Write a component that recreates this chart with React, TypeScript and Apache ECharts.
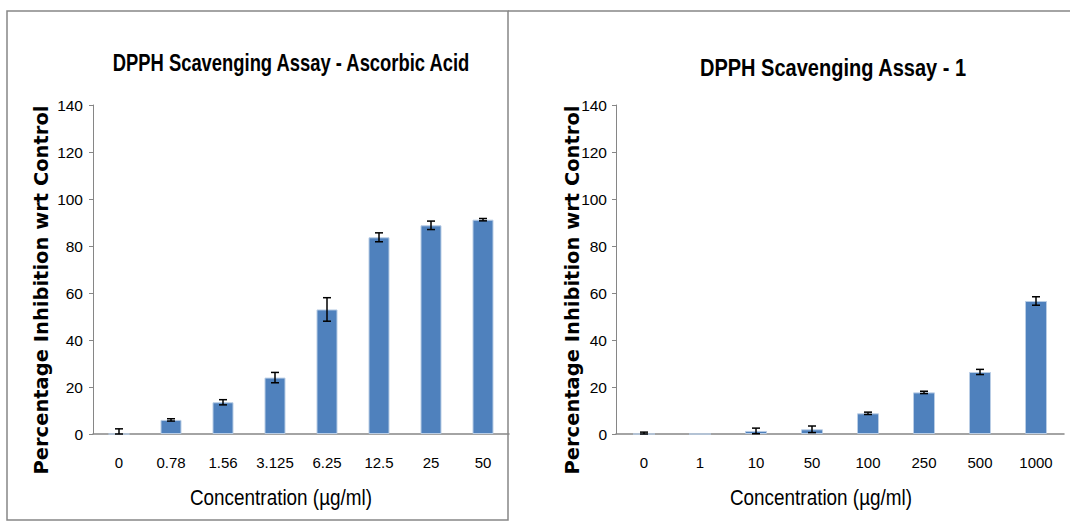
import React, { useEffect, useRef } from "react";
import * as echarts from "echarts";

const titleA = "DPPH Scavenging Assay - Ascorbic Acid";
const titleB = "DPPH Scavenging Assay - 1";
const xTitle = "Concentration (µg/ml)";
const yTitle = "Percentage Inhibition wrt Control";

const catsA = ["0", "0.78", "1.56", "3.125", "6.25", "12.5", "25", "50"];
const valsA = [0, 6.0, 13.5, 24.0, 53.0, 83.7, 88.8, 91.2];
const errA = [2.2, 0.5, 1.1, 2.2, 5.0, 1.9, 1.8, 0.5];

const catsB = ["0", "1", "10", "50", "100", "250", "500", "1000"];
const valsB = [0, 0, 1.3, 2.0, 8.8, 17.7, 26.4, 56.6];
const errB = [0.8, 0, 1.2, 1.4, 0.5, 0.5, 1.1, 1.8];

const yMax = 140;
const yStep = 20;

const NARROW = "'Liberation Sans', Arial, sans-serif";
const WIDE = "'DejaVu Sans', Verdana, sans-serif";

function errSeries(vals: number[], errs: number[], idx: number) {
  return {
    type: "custom",
    xAxisIndex: idx,
    yAxisIndex: idx,
    z: 10,
    data: vals.map((v, i) => [i, v, errs[i]]),
    renderItem: (params: any, api: any) => {
      const i = api.value(0);
      const v = api.value(1);
      const e = api.value(2);
      if (e <= 0) return null;
      const top = api.coord([i, v + e]);
      const bot = api.coord([i, Math.max(0, v - e)]);
      const hw = 4;
      const st = { stroke: "#000", lineWidth: 1.5 };
      return {
        type: "group",
        children: [
          { type: "line", shape: { x1: top[0], y1: top[1], x2: bot[0], y2: bot[1] }, style: st },
          { type: "line", shape: { x1: top[0] - hw, y1: top[1], x2: top[0] + hw, y2: top[1] }, style: st },
          { type: "line", shape: { x1: bot[0] - hw, y1: bot[1], x2: bot[0] + hw, y2: bot[1] }, style: st },
        ],
      };
    },
  };
}

function xAxisOf(cats: string[], idx: number) {
  return {
    type: "category",
    gridIndex: idx,
    data: cats,
    axisLine: { lineStyle: { color: "#868686", width: 1.5 } },
    axisTick: { show: false },
    axisLabel: { color: "#000", fontFamily: NARROW, fontSize: 15, margin: 21 },
  };
}

function yAxisOf(idx: number, margin: number) {
  return {
    type: "value",
    gridIndex: idx,
    min: 0,
    max: yMax,
    interval: yStep,
    splitLine: { show: false },
    axisLine: { show: true, lineStyle: { color: "#868686", width: 1 } },
    axisTick: { show: true, length: 4, lineStyle: { color: "#868686" } },
    axisLabel: { color: "#000", fontFamily: NARROW, fontSize: 15.5, margin },
  };
}

function barSeries(vals: number[], idx: number, w: number) {
  return {
    type: "bar",
    xAxisIndex: idx,
    yAxisIndex: idx,
    data: vals,
    barWidth: w,
    itemStyle: { color: "#4F81BD", borderColor: "#B9CDE5", borderWidth: 1 },
  };
}

function label(text: string, x: number, y: number, size: number, bold: boolean, sx: number, font: string, rot = 0) {
  return {
    type: "text",
    x,
    y,
    rotation: rot,
    scaleX: sx,
    z: 20,
    style: {
      text,
      fill: "#000",
      font: `${bold ? "bold " : ""}${size}px ${font}`,
      textAlign: "center",
      textVerticalAlign: "middle",
    },
  };
}

export default function App() {
  const ref = useRef<HTMLDivElement>(null);
  useEffect(() => {
    document.body.style.margin = "0";
    const chart = echarts.init(ref.current!, undefined, { renderer: "svg" });
    chart.setOption({
      animation: false,
      backgroundColor: "#fff",
      grid: [
        { left: 93, top: 105, width: 416, height: 329 },
        { left: 616, top: 105, width: 448, height: 329 },
      ],
      xAxis: [xAxisOf(catsA, 0), xAxisOf(catsB, 1)],
      yAxis: [yAxisOf(0, 10), yAxisOf(1, 9)],
      series: [
        barSeries(valsA, 0, 21),
        errSeries(valsA, errA, 0),
        barSeries(valsB, 1, 22),
        errSeries(valsB, errB, 1),
      ],
      graphic: [
        { type: "rect", shape: { x: 7, y: 11, width: 501, height: 509 }, style: { fill: "none", stroke: "#868686", lineWidth: 1.5 } },
        { type: "line", shape: { x1: 508, y1: 11, x2: 1070, y2: 11 }, style: { stroke: "#868686", lineWidth: 1.5 } },
        label(titleA, 291, 63, 23, true, 0.8, NARROW),
        label(titleB, 833, 68, 23, true, 0.87, NARROW),
        label(xTitle, 281, 497, 22, false, 0.86, NARROW),
        label(xTitle, 821, 497, 22, false, 0.86, NARROW),
        label(yTitle, 41, 290, 19.5, true, 1, WIDE, Math.PI / 2),
        label(yTitle, 572, 290, 19.5, true, 1, WIDE, Math.PI / 2),
      ],
    });
    return () => chart.dispose();
  }, []);
  return <div ref={ref} style={{ position: "absolute", left: 0, top: 0, width: 1070, height: 524 }} />;
}
